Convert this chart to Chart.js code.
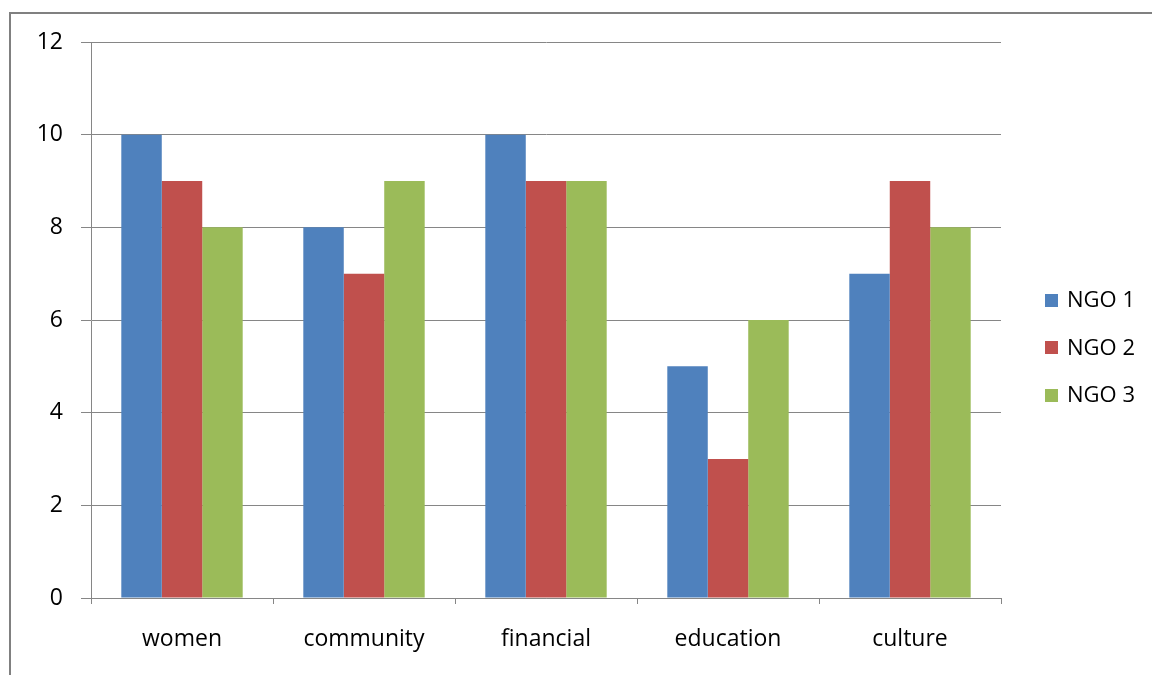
<!DOCTYPE html>
<html>
<head>
<meta charset="utf-8">
<script src="https://cdn.jsdelivr.net/npm/chart.js@4.4.1/dist/chart.umd.min.js"></script>
<style>
  html, body { margin: 0; padding: 0; background: #fff; }
  #wrap { width: 1152px; height: 675px; position: relative; }
</style>
</head>
<body>
<div id="wrap"><canvas id="chart" width="1152" height="675"></canvas></div>
<script>
// --- chart data ---
const categories = ['women', 'community', 'financial', 'education', 'culture'];
const ngo1 = [10, 8, 10, 5, 7];
const ngo2 = [9, 7, 9, 3, 9];
const ngo3 = [8, 9, 9, 6, 8];
const seriesNames = ['NGO 1', 'NGO 2', 'NGO 3'];
const seriesColors = ['#4F81BD', '#C0504D', '#9BBB59'];
const yTickValues = [0, 2, 4, 6, 8, 10, 12];

const FONT = '"Open Sans", "DejaVu Sans", sans-serif';
const AXIS_GREY = '#868686';

// outer frame of the old office chart (only top + left visible)
const framePlugin = {
    id: 'frame',
    beforeDraw(chart) {
        const ctx = chart.ctx;
        ctx.save();
        ctx.fillStyle = '#fff';
        ctx.fillRect(0, 0, chart.width, chart.height);
        ctx.fillStyle = '#808080';
        ctx.fillRect(9, 12, chart.width - 9, 2);
        ctx.fillRect(9, 12, 2, chart.height - 12);
        ctx.restore();
    }
};

// legend drawn by hand so it sits where excel put it
const sideLegend = {
    id: 'sideLegend',
    afterDraw(chart) {
        const ctx = chart.ctx;
        ctx.save();
        ctx.font = '22px ' + FONT;
        ctx.textBaseline = 'middle';
        chart.data.datasets.forEach((ds, i) => {
            const cy = 300 + i * 47.5;
            ctx.fillStyle = ds.backgroundColor;
            ctx.fillRect(1045, Math.round(cy - 6.5), 13, 13);
            ctx.fillStyle = '#000';
            ctx.fillText(ds.label, 1067, cy + 1);
        });
        ctx.restore();
    }
};

const datasets = [ngo1, ngo2, ngo3].map((vals, i) => ({
    label: seriesNames[i],
    data: vals,
    backgroundColor: seriesColors[i],
    borderWidth: 0,
    barPercentage: 1.0,
    categoryPercentage: 0.667
}));

new Chart(document.getElementById('chart'), {
    type: 'bar',
    data: { labels: categories, datasets: datasets },
    options: {
        responsive: false,
        animation: false,
        devicePixelRatio: 1,
        layout: { padding: { left: 0, top: 42, right: 151, bottom: 0 } },
        plugins: {
            legend: { display: false },
            tooltip: { enabled: false },
            title: { display: false }
        },
        scales: {
            x: {
                afterFit: (s) => { s.height = 77; },
                grid: { drawOnChartArea: false, offset: true, tickLength: 6, color: AXIS_GREY },
                border: { color: AXIS_GREY, width: 1 },
                ticks: { color: '#000', padding: 22, font: { family: FONT, size: 23 } }
            },
            y: {
                min: 0,
                max: 12,
                afterFit: (s) => { s.width = 91; },
                afterBuildTicks: (s) => { s.ticks = yTickValues.map(v => ({ value: v })); },
                grid: { color: AXIS_GREY, tickLength: 10 },
                border: { color: AXIS_GREY, width: 1 },
                ticks: { color: '#000', padding: 18, font: { family: FONT, size: 23 } }
            }
        }
    },
    plugins: [framePlugin, sideLegend]
});
</script>
</body>
</html>
